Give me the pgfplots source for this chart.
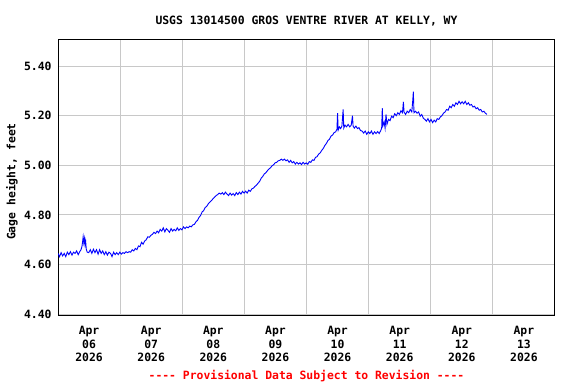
\documentclass[border=0pt]{standalone}
\usepackage{fontspec}
\setmainfont{DejaVu Sans Mono}
\setmonofont{DejaVu Sans Mono}
\usepackage{pgfplots}
\pgfplotsset{compat=1.18}
\definecolor{gridgray}{RGB}{200,200,200}
\definecolor{usgsblue}{RGB}{0,0,255}
\definecolor{usgsred}{RGB}{255,0,0}
\begin{document}
\begin{tikzpicture}[x=1bp,y=1bp]
\useasboundingbox (-58bp,-68.3bp) rectangle (518bp,315.7bp);
\begin{axis}[
  at={(0,0)}, anchor=south west,
  scale only axis, width=497bp, height=276.2bp,
  xmin=0, xmax=8, ymin=4.394, ymax=5.507,
  axis line style={black, line width=1bp},
  xtick={0.5,1.5,2.5,3.5,4.5,5.5,6.5,7.5},
  xticklabels={{Apr\\06\\2026},{Apr\\07\\2026},{Apr\\08\\2026},{Apr\\09\\2026},{Apr\\10\\2026},{Apr\\11\\2026},{Apr\\12\\2026},{Apr\\13\\2026}},
  minor xtick={1,2,3,4,5,6,7},
  xminorgrids=true,
  ytick={4.4,4.6,4.8,5.0,5.2,5.4},
  yticklabels={4.40,4.60,4.80,5.00,5.20,5.40},
  ymajorgrids=true,
  major tick length=0pt, minor tick length=0pt,
  grid style={gridgray, line width=1bp},
  minor grid style={gridgray, line width=1bp},
  tick label style={font=\fontsize{11.4bp}{13.5bp}\selectfont\bfseries},
  xticklabel style={align=center, yshift=-7bp},
  yticklabel style={xshift=-3bp},
  /pgf/number format/assume math mode=true,
  title={USGS 13014500 GROS VENTRE RIVER AT KELLY, WY},
  title style={font=\fontsize{11.4bp}{13.5bp}\selectfont\bfseries, at={(0.5,1)}, anchor=base, yshift=9bp},
  ylabel={Gage height, feet},
  ylabel style={font=\fontsize{11.4bp}{13.5bp}\selectfont\bfseries, at={(-55.5bp,0.5)}, anchor=north, xshift=-4bp},
  clip=true,
]
\addplot[usgsblue, line width=0.9bp] table {
0.000 4.645
0.025 4.632
0.050 4.648
0.075 4.635
0.100 4.645
0.125 4.632
0.150 4.650
0.175 4.640
0.200 4.652
0.225 4.638
0.250 4.650
0.275 4.645
0.300 4.655
0.325 4.640
0.350 4.652
0.370 4.660
0.385 4.672
0.395 4.690
0.405 4.712
0.415 4.688
0.425 4.705
0.435 4.680
0.445 4.695
0.455 4.662
0.470 4.650
0.495 4.648
0.520 4.660
0.545 4.645
0.570 4.662
0.595 4.648
0.620 4.660
0.645 4.642
0.670 4.660
0.695 4.645
0.720 4.655
0.745 4.640
0.770 4.652
0.795 4.638
0.820 4.650
0.845 4.645
0.870 4.632
0.895 4.650
0.920 4.640
0.945 4.648
0.970 4.640
0.995 4.650
1.020 4.642
1.045 4.648
1.070 4.645
1.095 4.652
1.120 4.648
1.145 4.652
1.170 4.650
1.195 4.660
1.220 4.655
1.245 4.665
1.270 4.660
1.295 4.675
1.320 4.672
1.345 4.690
1.370 4.682
1.395 4.695
1.420 4.700
1.445 4.712
1.470 4.710
1.495 4.718
1.520 4.722
1.545 4.730
1.570 4.725
1.595 4.735
1.620 4.728
1.645 4.742
1.670 4.735
1.695 4.748
1.720 4.732
1.745 4.745
1.770 4.738
1.795 4.730
1.820 4.745
1.845 4.735
1.870 4.742
1.895 4.736
1.920 4.748
1.945 4.738
1.970 4.745
1.995 4.740
2.020 4.752
2.045 4.745
2.070 4.752
2.095 4.748
2.120 4.755
2.145 4.752
2.170 4.760
2.195 4.762
2.220 4.772
2.245 4.778
2.270 4.790
2.295 4.798
2.320 4.812
2.345 4.818
2.370 4.830
2.395 4.835
2.420 4.845
2.445 4.852
2.470 4.858
2.495 4.865
2.520 4.872
2.545 4.878
2.570 4.882
2.595 4.888
2.620 4.884
2.645 4.890
2.670 4.882
2.695 4.892
2.720 4.884
2.745 4.878
2.770 4.888
2.795 4.880
2.820 4.886
2.845 4.878
2.870 4.890
2.895 4.882
2.920 4.892
2.945 4.884
2.970 4.895
2.995 4.888
3.020 4.896
3.045 4.888
3.070 4.900
3.095 4.895
3.120 4.905
3.145 4.908
3.170 4.915
3.195 4.920
3.220 4.928
3.245 4.935
3.270 4.948
3.295 4.955
3.320 4.965
3.345 4.970
3.370 4.978
3.395 4.985
3.420 4.990
3.445 4.998
3.470 5.002
3.495 5.010
3.520 5.012
3.545 5.018
3.570 5.020
3.595 5.025
3.620 5.020
3.645 5.025
3.670 5.018
3.695 5.022
3.720 5.012
3.745 5.020
3.770 5.010
3.795 5.015
3.820 5.005
3.845 5.012
3.870 5.005
3.895 5.010
3.920 5.003
3.945 5.012
3.970 5.005
3.995 5.010
4.020 5.004
4.045 5.015
4.070 5.012
4.095 5.022
4.120 5.020
4.145 5.032
4.170 5.035
4.195 5.045
4.220 5.050
4.245 5.060
4.270 5.068
4.295 5.080
4.320 5.088
4.345 5.100
4.370 5.105
4.395 5.118
4.420 5.122
4.445 5.132
4.470 5.135
4.490 5.145
4.500 5.210
4.510 5.142
4.530 5.155
4.550 5.148
4.570 5.158
4.590 5.225
4.600 5.150
4.620 5.162
4.645 5.155
4.670 5.165
4.695 5.155
4.720 5.162
4.740 5.200
4.750 5.158
4.770 5.150
4.795 5.158
4.820 5.148
4.845 5.152
4.870 5.140
4.895 5.138
4.920 5.130
4.945 5.138
4.970 5.125
4.995 5.135
5.020 5.128
5.045 5.138
5.070 5.125
5.095 5.135
5.120 5.128
5.145 5.136
5.170 5.128
5.195 5.140
5.210 5.150
5.220 5.230
5.230 5.160
5.250 5.175
5.265 5.150
5.280 5.205
5.295 5.165
5.320 5.185
5.345 5.180
5.370 5.198
5.395 5.192
5.420 5.208
5.445 5.200
5.470 5.212
5.495 5.205
5.520 5.220
5.545 5.212
5.560 5.256
5.570 5.215
5.595 5.205
5.620 5.218
5.645 5.212
5.670 5.225
5.695 5.215
5.710 5.260
5.720 5.297
5.730 5.212
5.755 5.218
5.780 5.210
5.805 5.215
5.830 5.198
5.855 5.205
5.880 5.190
5.905 5.185
5.930 5.178
5.955 5.188
5.980 5.175
6.005 5.185
6.030 5.172
6.055 5.182
6.080 5.175
6.105 5.188
6.130 5.185
6.155 5.195
6.180 5.200
6.205 5.210
6.230 5.215
6.255 5.225
6.280 5.222
6.305 5.238
6.330 5.232
6.355 5.245
6.380 5.238
6.405 5.252
6.430 5.245
6.455 5.258
6.480 5.248
6.505 5.256
6.530 5.248
6.555 5.258
6.580 5.245
6.605 5.252
6.630 5.242
6.655 5.245
6.680 5.235
6.705 5.238
6.730 5.228
6.755 5.232
6.780 5.222
6.805 5.225
6.830 5.215
6.855 5.218
6.880 5.210
6.905 5.205
};
\end{axis}
\node[font=\ttfamily\fontsize{11.4bp}{13.5bp}\selectfont\bfseries, text=usgsred, anchor=base] at (248.5bp,-64bp) {---- Provisional Data Subject to Revision ----};
\end{tikzpicture}
\end{document}
